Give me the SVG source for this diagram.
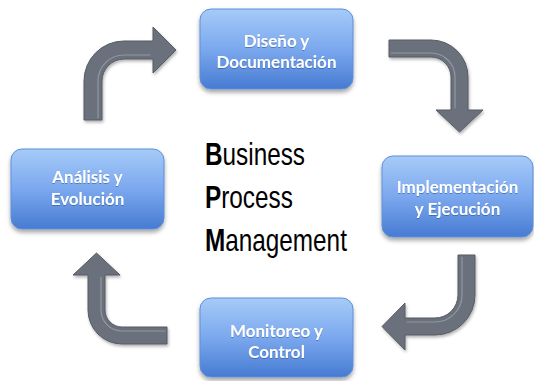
<svg xmlns="http://www.w3.org/2000/svg" width="534" height="381" viewBox="0 0 534 381">
<defs>
<linearGradient id="boxGrad" x1="0" y1="0" x2="0" y2="1">
<stop offset="0" stop-color="#a6cbf8"/>
<stop offset="0.5" stop-color="#7ba8ee"/>
<stop offset="1" stop-color="#477bd2"/>
</linearGradient>
<filter id="boxShadow" x="-10%" y="-10%" width="120%" height="130%">
<feDropShadow dx="0" dy="3" stdDeviation="2" flood-color="#000" flood-opacity="0.35"/>
</filter>
<filter id="arrowShadow" x="-10%" y="-10%" width="130%" height="130%">
<feDropShadow dx="1" dy="2" stdDeviation="1.5" flood-color="#000" flood-opacity="0.3"/>
</filter>
<filter id="txtShadow" x="-5%" y="-20%" width="110%" height="140%">
<feDropShadow dx="0" dy="1" stdDeviation="0.6" flood-color="#1f3f7a" flood-opacity="0.45"/>
</filter>
</defs>
<style>
.box{fill:url(#boxGrad);stroke:#5f8fd8;stroke-width:1;filter:url(#boxShadow);}
.lbl{font-family:"Lato","Liberation Sans",sans-serif;font-weight:bold;font-size:17px;fill:#ffffff;text-anchor:middle;filter:url(#txtShadow);}
.arrow{fill:#6b717b;stroke:#565b63;stroke-width:1;filter:url(#arrowShadow);}
.hl{fill:none;stroke:#9ba1aa;stroke-width:1.2;stroke-linecap:round;opacity:0.8;}
.bpm{font-family:"Liberation Sans",Arial,sans-serif;font-size:32px;fill:#000;}
.bpm .b{font-weight:bold;}
</style>

<g id="connectors">
<path class="arrow" d="M84,120 L84,81 A40,40 0 0 1 124,41 L153,41 L153,27 L176,50 L153,73 L153,59 L124,59 A22,22 0 0 0 102,81 L102,120 Z"/>
<path class="hl" d="M98,118 L98,81 A26,26 0 0 1 124,55 L150,55"/>
<path class="arrow" d="M389,40 L431,40 A37,37 0 0 1 468,77 L468,110 L483,110 L459.5,132 L436,110 L451,110 L451,77 A20,20 0 0 0 431,57 L389,57 Z"/>
<path class="hl" d="M391,53 L431,53 A24,24 0 0 1 455,77 L455,108"/>
<path class="arrow" d="M458,255 L475,255 L475,295 A40,40 0 0 1 435,335 L405,335 L405,350 L382,326.5 L405,303 L405,318 L435,318 A23,23 0 0 0 458,295 Z"/>
<path class="hl" d="M462,257 L462,295 A27,27 0 0 1 435,322 L407,322"/>
<path class="arrow" d="M167,327 L167,344 L122,344 A34,34 0 0 1 88,310 L88,275 L73,275 L96.5,253 L120,275 L105,275 L105,310 A17,17 0 0 0 122,327 Z"/>
<path class="hl" d="M165,331 L122,331 A21,21 0 0 1 101,310 L101,277"/>
</g>

<g id="node-diseno">
<rect class="box" x="200" y="9" width="153" height="80" rx="11"/>
<text class="lbl" x="276.5" y="47">Diseño y</text>
<text class="lbl" x="276.5" y="68">Documentación</text>
</g>

<g id="node-implementacion">
<rect class="box" x="382" y="156" width="151" height="81" rx="11"/>
<text class="lbl" x="457.5" y="193">Implementación</text>
<text class="lbl" x="457.5" y="215">y Ejecución</text>
</g>

<g id="node-monitoreo">
<rect class="box" x="200" y="298" width="153" height="79" rx="11"/>
<text class="lbl" x="276.5" y="337">Monitoreo y</text>
<text class="lbl" x="276.5" y="358">Control</text>
</g>

<g id="node-analisis">
<rect class="box" x="11" y="149" width="153" height="80" rx="11"/>
<text class="lbl" x="87.5" y="183">Análisis y</text>
<text class="lbl" x="87.5" y="205">Evolución</text>
</g>

<g id="bpm-title">
<text class="bpm" transform="translate(205,165) scale(0.76,1)"><tspan class="b">B</tspan>usiness</text>
<text class="bpm" transform="translate(205,208) scale(0.76,1)"><tspan class="b">P</tspan>rocess</text>
<text class="bpm" transform="translate(205,251) scale(0.76,1)"><tspan class="b">M</tspan>anagement</text>
</g>
</svg>
